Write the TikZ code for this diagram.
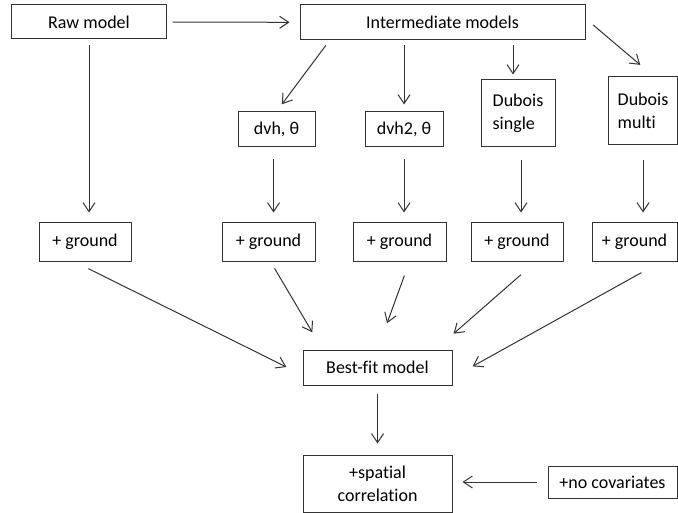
\documentclass[tikz,border=0pt]{standalone}
\usepackage{fontspec}
\setmainfont{Carlito}[Ligatures=NoCommon]
\usetikzlibrary{arrows.meta}

\begin{document}
\begin{tikzpicture}[x=1bp,y=-1bp,
  box/.style={draw=black!80,line width=1bp,inner sep=0pt,
              font=\fontsize{18bp}{23bp}\selectfont},
  ground/.style={box,minimum height=38bp},
  arr/.style={-{Straight Barb[length=9bp,width=12bp]},line width=1bp,black!80}]
\useasboundingbox (0,0) rectangle (678,513);
% top row
\node[box,minimum width=154bp,minimum height=34bp] (raw)   at (89,22)     {Raw model};
\node[box,minimum width=285bp,minimum height=35bp] (inter) at (442.5,22.5) {Intermediate models};
% intermediate models
\node[box,minimum width=77bp,minimum height=35bp] (dvh)    at (276.5,129.5) {dvh, θ};
\node[box,minimum width=78bp,minimum height=35bp] (dvhtwo) at (404,129.5)   {dvh2, θ};
\node[box,align=left,minimum width=74bp,minimum height=67bp] (dubs) at (518,113.5) {Dubois\\single};
\node[box,align=left,minimum width=69bp,minimum height=68bp] (dubm) at (643,111)   {Dubois\\multi};
% ground
\node[ground,minimum width=92bp] (gone)   at (85,242)    {+ ground};
\node[ground,minimum width=93bp] (gtwo)   at (268.5,242) {+ ground};
\node[ground,minimum width=93bp] (gthree) at (399.5,242) {+ ground};
\node[ground,minimum width=92bp] (gfour)  at (517,242)   {+ ground};
\node[ground,minimum width=85bp] (gfive)  at (634.5,242) {+ ground};
% bottom
\node[box,minimum width=149bp,minimum height=35bp] (best) at (377.5,367.5) {Best-fit model};
\node[box,align=center,minimum width=149bp,minimum height=57bp] (spatial) at (377.5,483.5) {+spatial\\correlation};
\node[box,minimum width=129bp,minimum height=32bp] (nocov) at (612.5,482) {+no covariates};

\draw[arr,shorten <=6bp,shorten >=10bp] (raw) -- (inter);
\draw[arr,shorten <=6bp,shorten >=10bp] (raw) -- (raw |- gone.north);
\draw[arr,shorten <=6bp,shorten >=9bp] ([xshift=30bp]inter.south west) -- (dvh.north);
\draw[arr,shorten <=5bp,shorten >=7bp] (dvhtwo.north |- inter.south) -- (dvhtwo.north);
\draw[arr,shorten <=5bp,shorten >=5bp] ([xshift=-5bp]dubs.north |- inter.south) -- ([xshift=-5bp]dubs.north);
\draw[arr,shorten <=10bp,shorten >=18bp] ([yshift=4bp]inter.east) -- ([xshift=11bp]dubm.north);

\draw[arr,shorten <=12bp,shorten >=10bp] ([xshift=-3bp]dvh.south) -- ([xshift=-3bp]dvh.south |- gtwo.north);
\draw[arr,shorten <=12bp,shorten >=10bp] (dvhtwo.south) -- (dvhtwo.south |- gthree.north);
\draw[arr,shorten <=13bp,shorten >=10bp] ([xshift=3bp]dubs.south) -- ([xshift=3bp]dubs.south |- gfour.north);
\draw[arr,shorten <=15bp,shorten >=10bp] (dubm.south) -- (dubm.south |- gfive.north);

\draw[arr,shorten <=16bp,shorten >=18bp] ([xshift=-11bp]gone.south) -- ([yshift=-7.5bp]best.west);
\draw[arr,shorten <=8bp,shorten >=20bp] ([xshift=2bp]gtwo.south) -- ([xshift=20bp]best.north west);
\draw[arr,shorten <=15bp,shorten >=28bp] ([xshift=10bp]gthree.south) -- (best.north);
\draw[arr,shorten <=20bp,shorten >=24bp] ([xshift=19bp]gfour.south) -- ([xshift=-17bp]best.north east);
\draw[arr,shorten <=23bp,shorten >=23bp] ([xshift=27bp]gfive.south) -- ([yshift=-10bp]best.east);

\draw[arr,shorten <=8bp,shorten >=11bp] (best) -- (spatial);
\draw[arr,shorten <=11bp,shorten >=10bp] (nocov) -- (nocov -| spatial.east);
\end{tikzpicture}
\end{document}
